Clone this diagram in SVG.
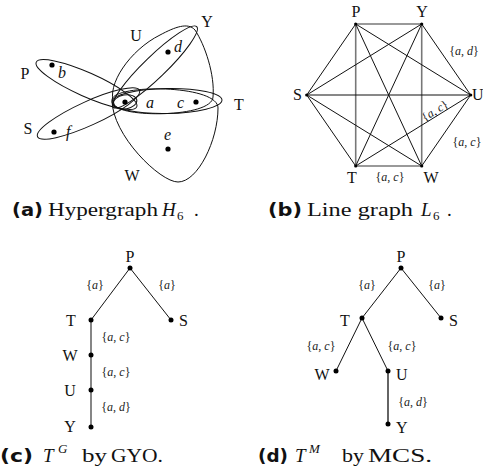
<svg xmlns="http://www.w3.org/2000/svg" width="483" height="475" viewBox="0 0 483 475">
<style>
.lbl{font-family:"Liberation Serif","Times New Roman",Tinos,serif;font-size:16px;fill:#111}
.it{font-family:"Liberation Serif","Times New Roman",Tinos,serif;font-size:16px;font-style:italic;fill:#111}
.el{font-family:"Liberation Serif","Times New Roman",Tinos,serif;font-size:12px;fill:#222}
.el tspan.m{font-style:italic}
.cap{font-family:"Liberation Serif","Times New Roman",Tinos,serif;font-size:19px;fill:#111}
.capb{font-family:"DejaVu Sans","Liberation Sans",sans-serif;font-size:18px;font-weight:bold;fill:#111}
.he{fill:none;stroke:#111;stroke-width:1}
.e{stroke:#111;stroke-width:1;fill:none}
.eg{stroke:#777;stroke-width:1.6;fill:none}
.dot{fill:#000}
</style>

<!-- (a) Hypergraph -->
<g id="hypergraph">
  <g id="hyperedges">
    <ellipse id="edgeP" class="he" cx="86.5" cy="84.5" rx="55" ry="12" transform="rotate(24 86.5 84.5)"/>
    <ellipse id="edgeS" class="he" cx="88.5" cy="113.5" rx="56" ry="12" transform="rotate(-24.5 88.5 113.5)"/>
    <ellipse id="edgeY" class="he" cx="155" cy="67" rx="58" ry="11" transform="rotate(-44 155 67)"/>
    <ellipse id="edgeT" class="he" cx="167" cy="101" rx="55" ry="12.5" transform="rotate(-1 167 101)"/>
    <path id="edgeU" class="he" d="M114,104 C106,85 130,50 160,35 C175,27 188,22 195,30 C205,45 215,75 213,97 C212,118 118,118 114,104 Z"/>
    <path id="edgeW" class="he" d="M112,100 C112,135 160,182 178,182 C198,182 218,140 218,108 C218,84 112,84 112,100 Z"/>
    <ellipse class="he" cx="125" cy="102" rx="12" ry="7" transform="rotate(-10 125 102)"/>
  </g>
  <g id="vertices">
    <circle class="dot" cx="52" cy="65" r="2.6"/>
    <circle class="dot" cx="168" cy="52" r="2.6"/>
    <circle class="dot" cx="125" cy="102" r="2.6"/>
    <circle class="dot" cx="196" cy="102" r="2.6"/>
    <circle class="dot" cx="54" cy="132" r="2.6"/>
    <circle class="dot" cx="168" cy="149" r="2.6"/>
    <text class="it" x="58" y="78">b</text>
    <text class="it" x="174" y="52">d</text>
    <text class="it" x="146" y="108">a</text>
    <text class="it" x="177" y="108">c</text>
    <text class="it" x="66" y="137">f</text>
    <text class="it" x="164" y="140">e</text>
  </g>
  <g id="hlabels">
    <text class="lbl" x="25" y="79" text-anchor="middle">P</text>
    <text class="lbl" x="136" y="41" text-anchor="middle">U</text>
    <text class="lbl" x="207" y="27" text-anchor="middle">Y</text>
    <text class="lbl" x="28" y="134" text-anchor="middle">S</text>
    <text class="lbl" x="234" y="110">T</text>
    <text class="lbl" x="132" y="181" text-anchor="middle">W</text>
  </g>
</g>

<!-- (b) Line graph -->
<g id="linegraph">
  <g id="lg-connectors">
    <line class="eg" x1="355.7" y1="24" x2="421.7" y2="24"/>
    <line class="eg" x1="355.7" y1="24" x2="355.7" y2="166"/>
    <line class="eg" x1="421.7" y1="24" x2="421.7" y2="166"/>
    <line class="eg" x1="355.7" y1="166" x2="421.7" y2="166"/>
    <line class="e" x1="355.7" y1="24" x2="306.7" y2="95"/>
    <line class="e" x1="355.7" y1="24" x2="470.7" y2="95"/>
    <line class="e" x1="355.7" y1="24" x2="421.7" y2="166"/>
    <line class="e" x1="421.7" y1="24" x2="306.7" y2="95"/>
    <line class="e" x1="421.7" y1="24" x2="470.7" y2="95"/>
    <line class="e" x1="421.7" y1="24" x2="355.7" y2="166"/>
    <line class="e" x1="306.7" y1="95" x2="470.7" y2="95"/>
    <line class="e" x1="306.7" y1="95" x2="355.7" y2="166"/>
    <line class="e" x1="306.7" y1="95" x2="421.7" y2="166"/>
    <line class="e" x1="470.7" y1="95" x2="355.7" y2="166"/>
    <line class="e" x1="470.7" y1="95" x2="421.7" y2="166"/>
  </g>
  <g id="lgP"><circle class="dot" cx="355.7" cy="24" r="1.6"/><text class="lbl" x="356" y="17" text-anchor="middle">P</text></g>
  <g id="lgY"><circle class="dot" cx="421.7" cy="24" r="1.6"/><text class="lbl" x="422" y="17" text-anchor="middle">Y</text></g>
  <g id="lgS"><circle class="dot" cx="306.7" cy="95" r="1.6"/><text class="lbl" x="302" y="100" text-anchor="end">S</text></g>
  <g id="lgU"><circle class="dot" cx="470.7" cy="95" r="1.6"/><text class="lbl" x="472" y="100">U</text></g>
  <g id="lgT"><circle class="dot" cx="355.7" cy="166" r="1.6"/><text class="lbl" x="352" y="183" text-anchor="middle">T</text></g>
  <g id="lgW"><circle class="dot" cx="421.7" cy="166" r="1.6"/><text class="lbl" x="431" y="183" text-anchor="middle">W</text></g>
  <g id="lg-edgelabels">
    <text class="el" x="464" y="55" text-anchor="middle">{<tspan class="m">a</tspan>, <tspan class="m">d</tspan>}</text>
    <text class="el" x="437" y="114" text-anchor="middle" transform="rotate(-32 437 114)">{<tspan class="m">a</tspan>, <tspan class="m">c</tspan>}</text>
    <text class="el" x="467" y="146" text-anchor="middle">{<tspan class="m">a</tspan>, <tspan class="m">c</tspan>}</text>
    <text class="el" x="390" y="181" text-anchor="middle">{<tspan class="m">a</tspan>, <tspan class="m">c</tspan>}</text>
  </g>
</g>

<!-- (c) T^G by GYO -->
<g id="treeG">
  <g id="tg-connectors">
    <line class="e" x1="130" y1="268" x2="91" y2="320"/>
    <line class="e" x1="130" y1="268" x2="171" y2="320"/>
    <line class="e" x1="91" y1="320" x2="91" y2="427" style="stroke:#444;stroke-width:1.3"/>
  </g>
  <g id="tgP"><circle class="dot" cx="130" cy="268" r="2.5"/><text class="lbl" x="130" y="262" text-anchor="middle">P</text></g>
  <g id="tgT"><circle class="dot" cx="91" cy="320" r="2.5"/><text class="lbl" x="71" y="326" text-anchor="middle">T</text></g>
  <g id="tgS"><circle class="dot" cx="171" cy="320" r="2.5"/><text class="lbl" x="179" y="326">S</text></g>
  <g id="tgW"><circle class="dot" cx="91" cy="355" r="2.5"/><text class="lbl" x="70" y="361" text-anchor="middle">W</text></g>
  <g id="tgU"><circle class="dot" cx="91" cy="390" r="2.5"/><text class="lbl" x="70" y="396" text-anchor="middle">U</text></g>
  <g id="tgY"><circle class="dot" cx="91" cy="427" r="2.5"/><text class="lbl" x="70" y="432" text-anchor="middle">Y</text></g>
  <g id="tg-edgelabels">
    <text class="el" x="95" y="289" text-anchor="middle">{<tspan class="m">a</tspan>}</text>
    <text class="el" x="167" y="289" text-anchor="middle">{<tspan class="m">a</tspan>}</text>
    <text class="el" x="116" y="341" text-anchor="middle">{<tspan class="m">a</tspan>, <tspan class="m">c</tspan>}</text>
    <text class="el" x="116" y="376" text-anchor="middle">{<tspan class="m">a</tspan>, <tspan class="m">c</tspan>}</text>
    <text class="el" x="116" y="411" text-anchor="middle">{<tspan class="m">a</tspan>, <tspan class="m">d</tspan>}</text>
  </g>
</g>

<!-- (d) T^M by MCS -->
<g id="treeM">
  <g id="tm-connectors">
    <line class="e" x1="401" y1="268" x2="362" y2="318"/>
    <line class="e" x1="401" y1="268" x2="441" y2="318"/>
    <line class="e" x1="362" y1="318" x2="336" y2="371"/>
    <line class="e" x1="362" y1="318" x2="388" y2="371"/>
    <line class="e" x1="388" y1="371" x2="388" y2="424" style="stroke-width:1.3"/>
  </g>
  <g id="tmP"><circle class="dot" cx="401" cy="268" r="2.5"/><text class="lbl" x="401" y="262" text-anchor="middle">P</text></g>
  <g id="tmT"><circle class="dot" cx="362" cy="318" r="2.5"/><text class="lbl" x="345" y="326" text-anchor="middle">T</text></g>
  <g id="tmS"><circle class="dot" cx="441" cy="318" r="2.5"/><text class="lbl" x="449" y="326">S</text></g>
  <g id="tmW"><circle class="dot" cx="336" cy="371" r="2.5"/><text class="lbl" x="322" y="380" text-anchor="middle">W</text></g>
  <g id="tmU"><circle class="dot" cx="388" cy="371" r="2.5"/><text class="lbl" x="396" y="380">U</text></g>
  <g id="tmY"><circle class="dot" cx="388" cy="424" r="2.5"/><text class="lbl" x="396" y="433">Y</text></g>
  <g id="tm-edgelabels">
    <text class="el" x="367" y="289" text-anchor="middle">{<tspan class="m">a</tspan>}</text>
    <text class="el" x="437" y="289" text-anchor="middle">{<tspan class="m">a</tspan>}</text>
    <text class="el" x="321" y="350" text-anchor="middle">{<tspan class="m">a</tspan>, <tspan class="m">c</tspan>}</text>
    <text class="el" x="402" y="350" text-anchor="middle">{<tspan class="m">a</tspan>, <tspan class="m">c</tspan>}</text>
    <text class="el" x="413" y="406" text-anchor="middle">{<tspan class="m">a</tspan>, <tspan class="m">d</tspan>}</text>
  </g>
</g>

<!-- captions -->
<g id="captions">
  <text class="capb" x="12" y="216" textLength="31" lengthAdjust="spacingAndGlyphs">(a)</text>
  <text class="cap" x="48" y="216" textLength="110" lengthAdjust="spacingAndGlyphs">Hypergraph</text>
  <text class="cap" x="162" y="216" font-style="italic">H</text>
  <text class="cap" x="177" y="220" style="font-size:13px">6</text>
  <text class="cap" x="194" y="216">.</text>

  <text class="capb" x="268" y="216" textLength="34" lengthAdjust="spacingAndGlyphs">(b)</text>
  <text class="cap" x="307" y="216" textLength="106" lengthAdjust="spacingAndGlyphs">Line graph</text>
  <text class="cap" x="421" y="216" font-style="italic">L</text>
  <text class="cap" x="433" y="220" style="font-size:13px">6</text>
  <text class="cap" x="447" y="216">.</text>

  <text class="capb" x="0" y="462" textLength="33" lengthAdjust="spacingAndGlyphs">(c)</text>
  <text class="cap" x="43" y="462" font-style="italic">T</text>
  <text class="cap" x="58" y="453" font-style="italic" style="font-size:13px">G</text>
  <text class="cap" x="82" y="462" textLength="25" lengthAdjust="spacingAndGlyphs">by</text>
  <text class="cap" x="111" y="462" textLength="52" lengthAdjust="spacingAndGlyphs">GYO.</text>

  <text class="capb" x="258" y="462" textLength="30" lengthAdjust="spacingAndGlyphs">(d)</text>
  <text class="cap" x="295" y="462" font-style="italic">T</text>
  <text class="cap" x="309" y="453" font-style="italic" style="font-size:13px">M</text>
  <text class="cap" x="342" y="462" textLength="22" lengthAdjust="spacingAndGlyphs">by</text>
  <text class="cap" x="368" y="462" textLength="64" lengthAdjust="spacingAndGlyphs">MCS.</text>
</g>
</svg>
